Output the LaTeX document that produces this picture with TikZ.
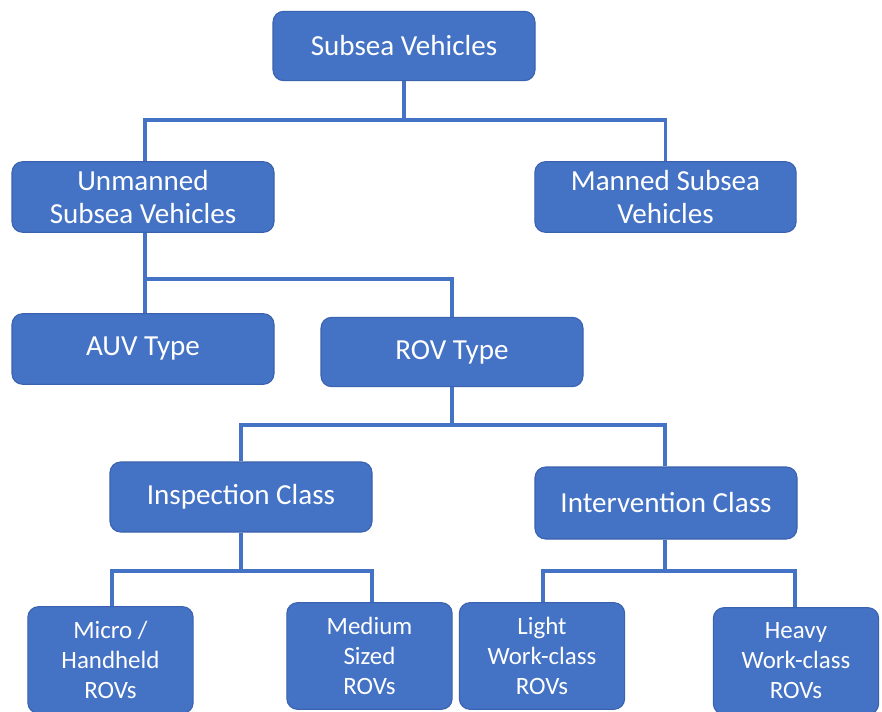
\documentclass[tikz,border=0pt]{standalone}
\usepackage{fontspec}
\setmainfont{Carlito}
\definecolor{boxfill}{HTML}{4472C4}
\definecolor{boxline}{HTML}{3A62AE}
\definecolor{conn}{HTML}{4472C4}
\begin{document}
\begin{tikzpicture}[x=0.75pt,y=-0.75pt,
  box/.style={draw=boxline, line width=0.8pt, fill=boxfill, rounded corners=8pt,
    text=white, font=\fontsize{21.8}{25}\selectfont, align=center, inner sep=0pt},
  smallbox/.style={box, font=\fontsize{18.7}{22.5}\selectfont},
  link/.style={draw=conn, line width=2.4pt}]
\useasboundingbox (0,0) rectangle (882,711);
\fill[white] (0,0) rectangle (882,711);
% level 1
\node[box, minimum width=196.5pt, minimum height=52pt] (sv) at (404,46) {Subsea Vehicles};
% level 2
\node[box, minimum width=196.5pt, minimum height=53pt] (un) at (143,197) {Unmanned\\Subsea Vehicles};
\node[box, minimum width=196pt, minimum height=53pt] (ma) at (665.5,197) {Manned Subsea\\Vehicles};
% level 3
\node[box, minimum width=196.5pt, minimum height=53pt] (auv) at (143,349) {AUV Type};
\node[box, minimum width=196.5pt, minimum height=52pt] (rov) at (452,352) {ROV Type};
% level 4
\node[box, minimum width=196.5pt, minimum height=52.5pt] (ins) at (241,497) {Inspection Class};
\node[box, minimum width=196.5pt, minimum height=54pt] (int) at (666,503) {Intervention Class};
% level 5
\node[smallbox, minimum width=124pt, minimum height=80pt] (mic) at (110.5,660) {Micro /\\Handheld\\ROVs};
\node[smallbox, minimum width=124pt, minimum height=80pt] (med) at (369.5,656) {Medium\\Sized\\ROVs};
\node[smallbox, minimum width=124pt, minimum height=80pt] (lig) at (542,656) {Light\\Work-class\\ROVs};
\node[smallbox, minimum width=124pt, minimum height=80pt] (hea) at (796,661) {Heavy\\Work-class\\ROVs};
% connectors
\coordinate (j1) at (404,120);
\coordinate (j2) at (145,279);
\coordinate (j3) at (452,425);
\coordinate (j4) at (241,571);
\coordinate (j5) at (665,571);
\draw[link] (sv.south) -- (j1);
\draw[link] (un.north -| 145,0) |- (j1) -| (ma.north);
\draw[link] (un.south -| j2) -- (auv.north -| j2);
\draw[link] (j2) -| (rov.north);
\draw[link] (rov.south) -- (j3);
\draw[link] (ins.north) |- (j3) -| (int.north -| 665,0);
\draw[link] (ins.south) -- (j4);
\draw[link] (mic.north -| 112,0) |- (j4) -| (med.north -| 372,0);
\draw[link] (int.south -| j5) -- (j5);
\draw[link] (lig.north -| 543,0) |- (j5) -| (hea.north -| 795,0);
\end{tikzpicture}
\end{document}
